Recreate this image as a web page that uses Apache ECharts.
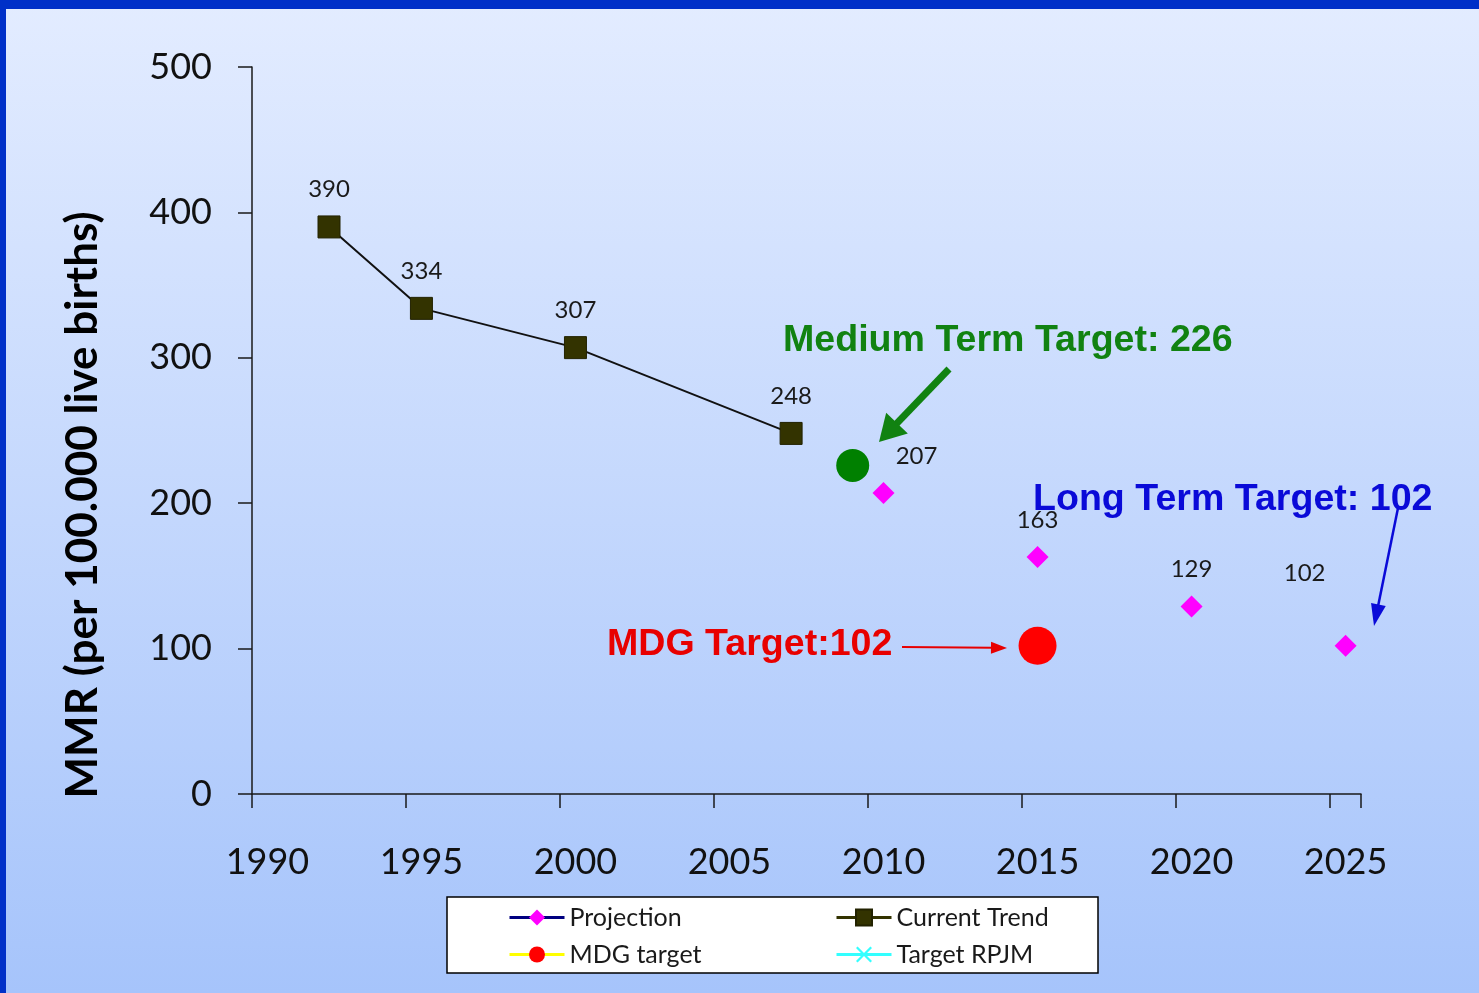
<!DOCTYPE html>
<html>
<head>
<meta charset="utf-8">
<script src="https://cdn.jsdelivr.net/npm/echarts@6/dist/echarts.min.js"></script>
<style>
  html, body { margin: 0; padding: 0; }
  #main {
    width: 1479px;
    height: 993px;
    background: linear-gradient(#e3ecff, #a6c4fb);
    box-shadow: inset 6px 9px 0 #0030c8;
  }
</style>
</head>
<body>
<div id="main"></div>
<script>
// category axis: one slot per year, labels every 5 years
var years = [1990, 1991, 1992, 1993, 1994, 1995, 1996, 1997, 1998, 1999,
             2000, 2001, 2002, 2003, 2004, 2005, 2006, 2007, 2008, 2009,
             2010, 2011, 2012, 2013, 2014, 2015, 2016, 2017, 2018, 2019,
             2020, 2021, 2022, 2023, 2024, 2025];

var trendYears = [1992, 1995, 2000, 2007];
var trendValues = [390, 334, 307, 248];

var projYears = [2010, 2015, 2020, 2025];
var projValues = [207, 163, 129, 102];

var mdgYears = [2015];
var mdgValues = [102];

var rpjmYears = [2009];
var rpjmValues = [226];

var yTicks = [0, 100, 200, 300, 400, 500];

function pairs(xs, ys) {
  var out = [];
  for (let i = 0; i < xs.length; i++) out.push([String(xs[i]), ys[i]]);
  return out;
}

// label offsets for the projection labels (207 right, 102 left)
var projData = pairs(projYears, projValues);
projData[0] = { value: projData[0], label: { offset: [33, 0] } };
projData[3] = { value: projData[3], label: { offset: [-41, -35] } };

var rpjmData = pairs(rpjmYears, rpjmValues).map(function (d) {
  return { value: d, symbol: 'circle', symbolSize: 33, itemStyle: { color: '#008000' } };
});

function arrow(x1, y1, x2, y2, w, hl, hw, color) {
  var dx = x2 - x1, dy = y2 - y1, L = Math.hypot(dx, dy);
  var ux = dx / L, uy = dy / L;
  var bx = x2 - ux * hl, by = y2 - uy * hl;
  var px = -uy, py = ux;
  return [
    { type: 'line', z: 50, shape: { x1: x1, y1: y1, x2: bx + ux * 2, y2: by + uy * 2 },
      style: { stroke: color, lineWidth: w } },
    { type: 'polygon', z: 50,
      shape: { points: [[x2, y2], [bx + px * hw / 2, by + py * hw / 2], [bx - px * hw / 2, by - py * hw / 2]] },
      style: { fill: color } }
  ];
}

var xPath = 'path://M0,1L1,0L5,4L9,0L10,1L6,5L10,9L9,10L5,6L1,10L0,9L4,5Z';

var myChart = echarts.init(document.getElementById('main'));

var labelStyle = {
  show: true,
  position: 'top',
  distance: 14,
  fontFamily: 'Lato',
  fontSize: 24,
  color: '#1a1a1a'
};

var legendBase = {
  orient: 'vertical',
  top: 905,
  padding: 0,
  itemWidth: 55,
  itemHeight: 20,
  itemGap: 12,
  textStyle: { fontFamily: 'Lato', fontSize: 25, lineHeight: 20, color: '#1a1a1a' }
};

var option = {
  backgroundColor: 'transparent',
  animation: false,
  grid: { left: 252, right: 118, top: 67, bottom: 199 },
  xAxis: {
    type: 'category',
    data: years.map(String),
    boundaryGap: true,
    axisLine: { lineStyle: { color: '#1a1a1a', width: 1.5 } },
    axisTick: { show: true, interval: 4, length: 14, lineStyle: { color: '#1a1a1a', width: 1.5 } },
    axisLabel: { interval: 4, margin: 50, fontFamily: 'Lato', fontSize: 36, color: '#111' },
    splitLine: { show: false }
  },
  yAxis: {
    type: 'value',
    min: yTicks[0],
    max: yTicks[yTicks.length - 1],
    interval: 100,
    axisLine: { show: true, lineStyle: { color: '#1a1a1a', width: 1.5 } },
    axisTick: { show: true, length: 14, lineStyle: { color: '#1a1a1a', width: 1.5 } },
    axisLabel: { margin: 40, fontFamily: 'Lato', fontSize: 36, color: '#111' },
    splitLine: { show: false }
  },
  legend: [
    Object.assign({}, legendBase, {
      left: 508,
      data: [
        { name: 'Projection', lineStyle: { color: '#000080', width: 3, opacity: 1 } },
        { name: 'MDG target', lineStyle: { color: '#ffff00', width: 3 } }
      ]
    }),
    Object.assign({}, legendBase, {
      left: 835,
      data: [
        { name: 'Current Trend', lineStyle: { color: '#333300', width: 3 } },
        { name: 'Target RPJM', lineStyle: { color: '#33ffff', width: 3 } }
      ]
    })
  ],
  series: [
    {
      name: 'Current Trend',
      type: 'line',
      data: pairs(trendYears, trendValues),
      symbol: 'rect',
      symbolSize: 22,
      showAllSymbol: true,
      itemStyle: { color: '#333300', borderColor: '#222200', borderWidth: 1 },
      lineStyle: { color: '#111', width: 2 },
      label: labelStyle,
      z: 3
    },
    {
      name: 'Projection',
      type: 'line',
      data: projData,
      symbol: 'diamond',
      symbolSize: 22,
      showAllSymbol: true,
      itemStyle: { color: '#ff00ff' },
      lineStyle: { color: '#000080', opacity: 0 },
      label: labelStyle,
      z: 3
    },
    {
      name: 'MDG target',
      type: 'line',
      data: pairs(mdgYears, mdgValues),
      symbol: 'circle',
      symbolSize: 38,
      showAllSymbol: true,
      itemStyle: { color: '#ff0000' },
      lineStyle: { color: '#ffff00' },
      z: 3
    },
    {
      name: 'Target RPJM',
      type: 'line',
      data: rpjmData,
      symbol: xPath,
      showAllSymbol: true,
      itemStyle: { color: '#33ffff' },
      lineStyle: { color: '#33ffff' },
      z: 3
    }
  ],
  graphic: [
    {
      type: 'rect', z: 0, x: 447, y: 897,
      shape: { width: 651, height: 76 },
      style: { fill: '#fff', stroke: '#000', lineWidth: 1.5 }
    },
    {
      type: 'text', z: 100,
      x: 83, y: 505, rotation: Math.PI / 2,
      style: { text: 'MMR (per 100.000 live births)', font: 'bold 44px Lato', fill: '#000',
               align: 'center', verticalAlign: 'middle' }
    },
    {
      type: 'text', z: 100, x: 783, y: 341,
      style: { text: 'Medium Term Target: 226', font: 'bold 37.6px "Liberation Sans"', fill: '#118211',
               align: 'left', verticalAlign: 'middle' }
    },
    {
      type: 'text', z: 100, x: 1033, y: 500,
      style: { text: 'Long Term Target: 102', font: 'bold 37.6px "Liberation Sans"', fill: '#0a0ad8',
               align: 'left', verticalAlign: 'middle' }
    },
    {
      type: 'text', z: 100, x: 607, y: 645,
      style: { text: 'MDG Target:102', font: 'bold 37.6px "Liberation Sans"', fill: '#e80000',
               align: 'left', verticalAlign: 'middle' }
    }
  ]
    .concat(arrow(949, 369, 879, 442, 7, 26, 30, '#118211'))
    .concat(arrow(1398, 508, 1374, 626, 2.5, 22, 15, '#0a0ad8'))
    .concat(arrow(902, 647, 1007, 648, 2, 16, 12, '#e80000'))
};

myChart.setOption(option);
</script>
</body>
</html>
